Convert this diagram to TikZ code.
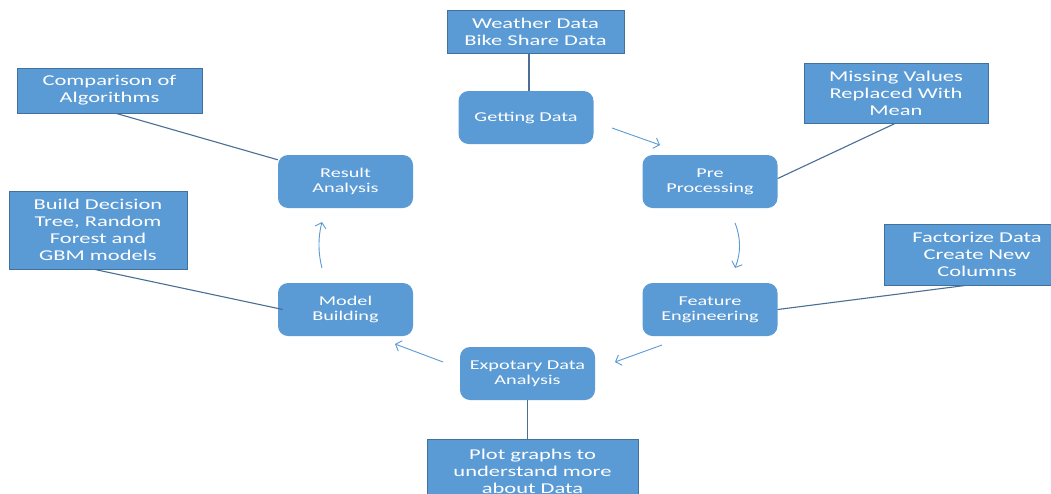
\documentclass[tikz,border=0pt]{standalone}
\usepackage{fontspec}
\setmainfont{Carlito}[FakeStretch=1.5]
\usetikzlibrary{arrows.meta,calc}
\definecolor{boxblue}{HTML}{5B9BD5}
\definecolor{boxedge}{HTML}{41719C}
\definecolor{linkcol}{HTML}{4A6E96}
\begin{document}
\begin{tikzpicture}[x=1pt,y=-1pt,
  stage/.style={rectangle,rounded corners=10pt,fill=boxblue,draw=none,text=white,
    align=center,inner sep=0pt,minimum width=135pt,minimum height=53pt,
    font=\fontsize{13.5}{15}\selectfont},
  note/.style={rectangle,fill=boxblue,draw=boxedge,line width=1pt,text=white,
    align=center,inner sep=0pt,font=\fontsize{15}{17}\selectfont},
  link/.style={draw=linkcol,line width=1.1pt},
  flow/.style={draw=boxblue,line width=0.9pt,-{Straight Barb[length=5pt,width=11pt]}}]
\useasboundingbox (0,0) rectangle (1051,493);
\clip (0,0) rectangle (1051,493);
\fill[white] (0,0) rectangle (1051,493);
% stages
\node[stage] (gd)  at (526,117.5) {Getting Data};
\node[stage] (pp)  at (710,181.5) {Pre\\Processing};
\node[stage] (fe)  at (710,309.5) {Feature\\Engineering};
\node[stage] (eda) at (527.5,373.5) {Expotary Data\\Analysis};
\node[stage] (mb)  at (345.5,309.5) {Model\\Building};
\node[stage] (ra)  at (345.5,181.5) {Result\\Analysis};
% notes
\node[note,minimum width=177pt,minimum height=43pt] (wd) at (535.5,31.5) {Weather Data\\Bike Share Data};
\node[note,minimum width=184pt,minimum height=60pt] (mv) at (896,93) {Missing Values\\Replaced With\\Mean};
\node[note,minimum width=175pt,minimum height=61pt,anchor=west] (fz) at (884,254.5) {\hspace*{10pt}Factorize Data\\\hspace*{10pt}Create New\\\hspace*{10pt}Columns};
\node[note,minimum width=185pt,minimum height=45pt] (cmp) at (109.5,90.5) {Comparison of\\Algorithms};
\node[note,minimum width=178pt,minimum height=78pt] (bd) at (98,230) {Build Decision\\Tree, Random\\Forest and\\GBM models};
\node[note,minimum width=211pt,minimum height=64pt] (pg) at (532.5,471) {Plot graphs to\\understand more\\about Data};
% links
\draw[link] ($(wd.south)+(-6.5,0)$) -- ($(gd.north)+(3,0)$);
\draw[link] ($(mv.south)+(-1,0)$) -- ($(pp.east)+(0,-3)$);
\draw[link] ($(fz.south west)+(81,0)$) -- (fe.east);
\draw[link] ($(cmp.south)+(7,0)$) -- ($(ra.north west)+(0,5)$);
\draw[link] ($(bd.south)+(-3,0)$) -- ($(mb.west)+(5,0)$);
\draw[link] (eda.south) -- (pg.north -| eda.south);
% flow arrows
\coordinate (a1) at (612,128); \coordinate (b1) at (660,145);
\coordinate (a2) at (735,223); \coordinate (b2) at (735,268);
\coordinate (a3) at (662,345); \coordinate (b3) at (615,362);
\coordinate (a4) at (443,362); \coordinate (b4) at (395,344);
\coordinate (a5) at (322,268); \coordinate (b5) at (322,222);
\draw[flow] (a1) -- (b1);
\draw[flow] (a2) .. controls (741,238) and (741,253) .. (b2);
\draw[flow] (a3) -- (b3);
\draw[flow] (a4) -- (b4);
\draw[flow] (a5) .. controls (318,253) and (318,237) .. (b5);
\end{tikzpicture}
\end{document}
